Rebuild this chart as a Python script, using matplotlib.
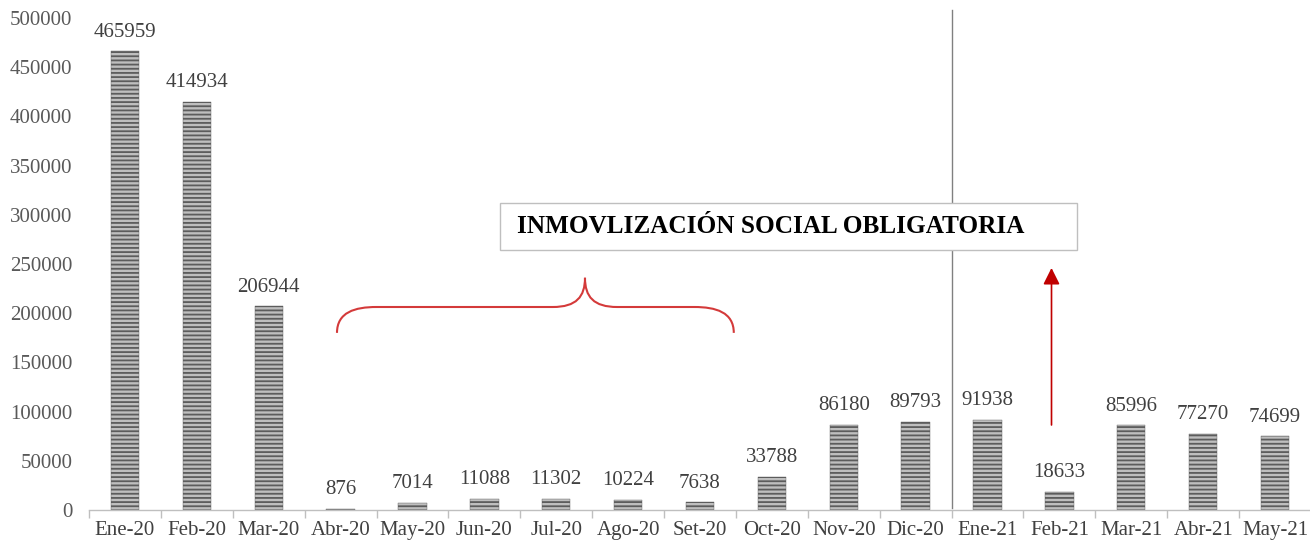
import matplotlib
matplotlib.use("Agg")
import matplotlib.pyplot as plt
from matplotlib.path import Path
from matplotlib.patches import PathPatch, Rectangle, FancyArrowPatch

months = ["Ene-20", "Feb-20", "Mar-20", "Abr-20", "May-20", "Jun-20", "Jul-20",
          "Ago-20", "Set-20", "Oct-20", "Nov-20", "Dic-20", "Ene-21", "Feb-21",
          "Mar-21", "Abr-21", "May-21"]
values = [465959, 414934, 206944, 876, 7014, 11088, 11302, 10224, 7638,
          33788, 86180, 89793, 91938, 18633, 85996, 77270, 74699]
yticks = [0, 50000, 100000, 150000, 200000, 250000, 300000, 350000, 400000, 450000, 500000]
box_text = "INMOVLIZACIÓN SOCIAL OBLIGATORIA"

plt.rcParams['font.family'] = ['Liberation Serif', 'DejaVu Serif']
plt.rcParams['hatch.linewidth'] = 1.3

fig = plt.figure(figsize=(13.1, 5.43), dpi=100)
ax = fig.add_axes([89/1310, 1-510/543, 1222/1310, 492/543])

x = list(range(len(months)))
ax.bar(x, values, width=0.395, color='#bebebe', edgecolor='#5c5c5c',
       hatch='----', linewidth=0.3, zorder=2)

for xi, v in zip(x, values):
    ax.annotate(f"{v}", (xi, v), xytext=(0, 7), textcoords='offset points',
                ha='center', va='bottom', fontsize=15, color='#404040')

ax.set_xlim(-0.5, len(months) - 0.5)
ax.set_ylim(0, 500000)
ax.set_yticks(yticks)
ax.set_yticklabels([str(t) for t in yticks])
ax.set_xticks(x)
ax.set_xticklabels(months)
ax.set_xticks([i - 0.5 for i in range(len(months) + 1)], minor=True)
ax.tick_params(axis='x', which='major', length=0, pad=8, labelsize=15, labelcolor='#404040')
ax.tick_params(axis='x', which='minor', length=6, color='#bfbfbf', width=1)
ax.tick_params(axis='y', length=0, pad=12, labelsize=15, labelcolor='#595959')
for s in ['top', 'right', 'left']:
    ax.spines[s].set_visible(False)
ax.spines['bottom'].set_color('#bfbfbf')
ax.spines['bottom'].set_linewidth(1)

# vertical separator
ax.plot([11.5, 11.5], [2000, 508000], color='#808080', lw=1, clip_on=False, zorder=3)

# text box
ax.add_patch(Rectangle((5.22, 264000), 8.03, 48000, facecolor='white',
                       edgecolor='#bfbfbf', lw=1, zorder=4))
ax.text(5.45, 288000, box_text, fontsize=18.2, fontweight='bold', color='black',
        ha='left', va='center', zorder=5)

# brace
xL, xM, xR = 2.95, 6.40, 8.47
yE, yH, yC = 180000, 206300, 236000
verts = [(xL, yE), (xL, yE + 0.8 * (yH - yE)), (xL + 0.25, yH), (xL + 0.55, yH),
         (xM - 0.45, yH),
         (xM - 0.12, yH), (xM, yH + 0.35 * (yC - yH)), (xM, yC),
         (xM, yH + 0.35 * (yC - yH)), (xM + 0.12, yH), (xM + 0.45, yH),
         (xR - 0.55, yH),
         (xR - 0.25, yH), (xR, yE + 0.8 * (yH - yE)), (xR, yE)]
codes = [Path.MOVETO, Path.CURVE4, Path.CURVE4, Path.CURVE4,
         Path.LINETO,
         Path.CURVE4, Path.CURVE4, Path.CURVE4,
         Path.CURVE4, Path.CURVE4, Path.CURVE4,
         Path.LINETO,
         Path.CURVE4, Path.CURVE4, Path.CURVE4]
ax.add_patch(PathPatch(Path(verts, codes), facecolor='none', edgecolor='#d43a3a',
                       lw=1.5, zorder=4))

# arrow
ax.add_patch(FancyArrowPatch((12.89, 86400), (12.89, 246000),
                             arrowstyle='-|>,head_length=0.5,head_width=0.25',
                             mutation_scale=20, color='#c00000', lw=1.2,
                             shrinkA=0, shrinkB=0, zorder=4))

fig.savefig("out.png", dpi=100)
